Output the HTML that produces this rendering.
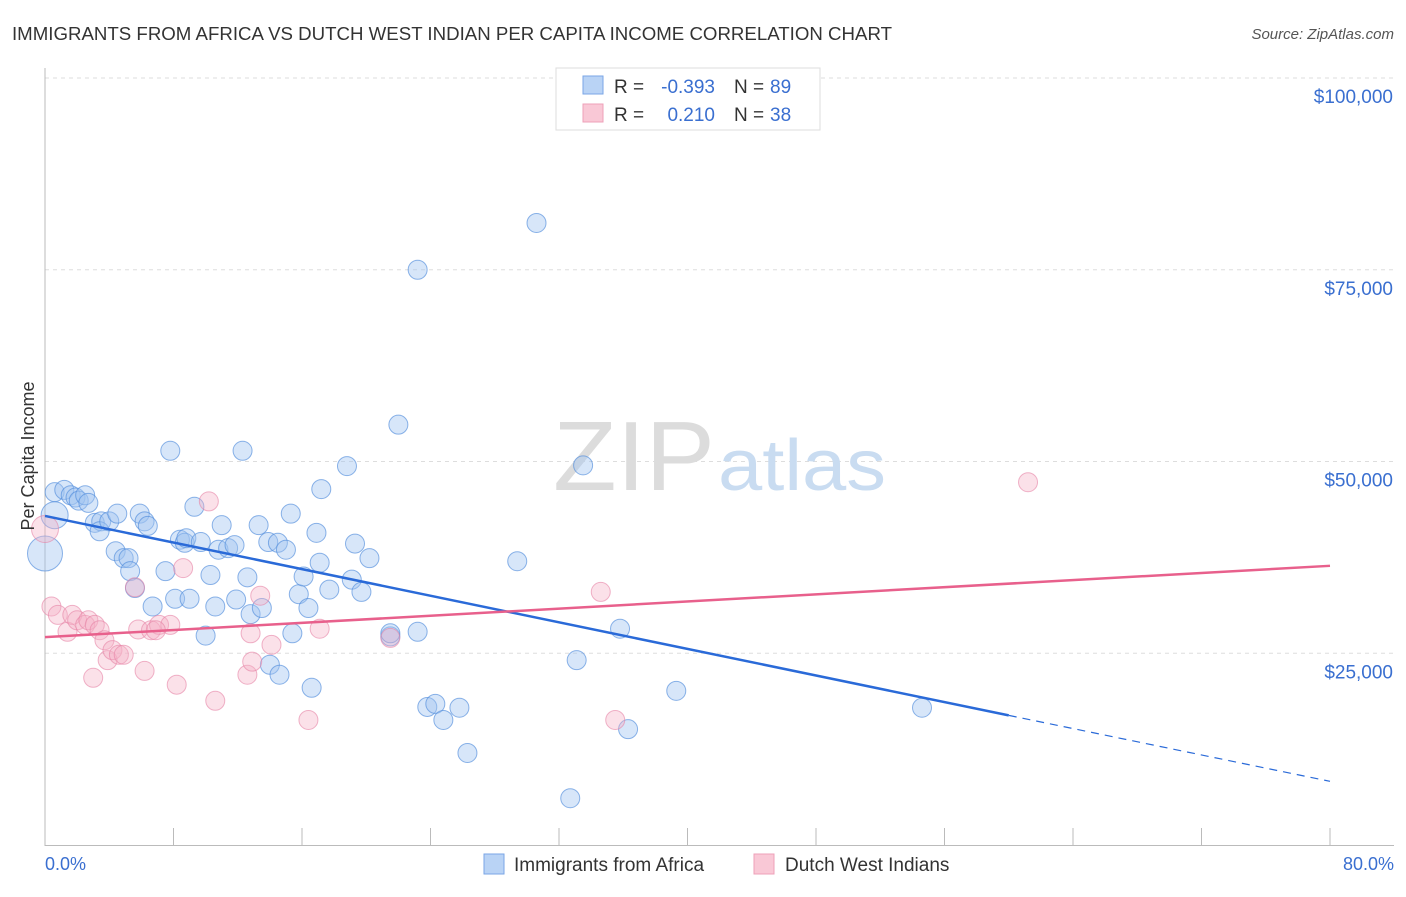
<!DOCTYPE html>
<html><head><meta charset="utf-8"><style>
body{margin:0;background:#fff;font-family:"Liberation Sans",sans-serif;}
svg text{font-family:"Liberation Sans",sans-serif;}
</style></head><body>
<svg width="1406" height="892" xmlns="http://www.w3.org/2000/svg">
<text x="12" y="40" font-size="18" fill="#333" textLength="880" lengthAdjust="spacingAndGlyphs">IMMIGRANTS FROM AFRICA VS DUTCH WEST INDIAN PER CAPITA INCOME CORRELATION CHART</text>
<text x="1394" y="39" font-size="15" fill="#555" text-anchor="end" font-style="italic">Source: ZipAtlas.com</text>
<g id="grid"></g>
<line x1="45" y1="68" x2="45" y2="846" stroke="#bbb"/>
<line x1="45" y1="845.5" x2="1394" y2="845.5" stroke="#bbb"/>
<text x="553" y="490" font-size="98" fill="#dcdcdc" font-family="Liberation Serif" textLength="162" lengthAdjust="spacingAndGlyphs">ZIP</text>
<text x="718" y="490" font-size="72" fill="#c9dcf1" textLength="168" lengthAdjust="spacingAndGlyphs">atlas</text>
<g id="marks"></g>
<text x="34" y="456" font-size="18" fill="#333" transform="rotate(-90 34 456)" text-anchor="middle">Per Capita Income</text>
<text x="45" y="870" font-size="18" fill="#3a6fd0">0.0%</text>
<text x="1394" y="870" font-size="18" fill="#3a6fd0" text-anchor="end">80.0%</text>
<g>
<rect x="556" y="68" width="264" height="62" fill="#fff" stroke="#ddd"/>
<rect x="583" y="76" width="20" height="18" fill="#b9d3f5" stroke="#7aa6e6"/>
<rect x="583" y="104" width="20" height="18" fill="#f9c8d6" stroke="#eea0b8"/>
<text x="614" y="93" font-size="19" fill="#333">R =</text>
<text x="715" y="93" font-size="19" fill="#3a6fd0" text-anchor="end">-0.393</text>
<text x="734" y="93" font-size="19" fill="#333">N =</text>
<text x="770" y="93" font-size="19" fill="#3a6fd0">89</text>
<text x="614" y="121" font-size="19" fill="#333">R =</text>
<text x="715" y="121" font-size="19" fill="#3a6fd0" text-anchor="end">0.210</text>
<text x="734" y="121" font-size="19" fill="#333">N =</text>
<text x="770" y="121" font-size="19" fill="#3a6fd0">38</text>
</g>
<g>
<rect x="484" y="854" width="20" height="20" fill="#b9d3f5" stroke="#7aa6e6"/>
<text x="514" y="871" font-size="19" fill="#333">Immigrants from Africa</text>
<rect x="754" y="854" width="20" height="20" fill="#f9c8d6" stroke="#eea0b8"/>
<text x="785" y="871" font-size="19" fill="#333">Dutch West Indians</text>
</g>
</svg>
<script>
const yTicks=[25000,50000,75000,100000];
const yTickLabels=["$25,000","$50,000","$75,000","$100,000"];
const xTicks=[0,8,16,24,32,40,48,56,64,72,80];
const africaX=[0.6,0,0.6,1.2,1.6,1.9,2.1,2.5,2.7,3.1,3.5,3.4,4.0,4.5,4.4,4.9,5.2,5.3,5.6,5.9,6.2,6.4,6.7,7.5,7.8,8.1,8.4,8.7,8.8,9.0,9.3,9.7,10.0,10.3,10.6,10.8,11.0,11.4,11.8,11.9,12.3,12.6,12.8,13.3,13.5,13.9,14.0,14.5,14.6,15.0,15.3,15.4,15.8,16.1,16.4,16.6,16.9,17.1,17.2,17.7,18.8,19.1,19.3,19.7,20.2,21.5,22.0,23.2,23.2,23.8,24.3,24.8,25.8,26.3,29.4,30.6,32.7,33.1,33.5,35.8,36.3,39.3,54.6,21.5];
const africaY=[43000,38000,46000,46300,45600,45300,44900,45600,44600,42000,42200,40900,42200,43200,38300,37400,37400,35700,33500,43200,42200,41600,31100,35700,51400,32100,39800,39400,40000,32100,44100,39500,27300,35200,31100,38500,41700,38700,39100,32000,51400,34900,30100,41700,30900,39500,23500,39400,22200,38500,43200,27600,32700,35000,30900,20500,40700,36800,46400,33300,49400,34600,39300,33000,37400,27200,54800,27800,75000,18000,18400,16300,17900,12000,37000,81100,6100,24100,49500,28200,15100,20100,17900,27600];
const dutchX=[0,0.4,0.8,1.4,1.7,2.0,2.5,2.7,3.1,3.4,3.7,3.9,4.2,4.6,4.9,3.0,5.6,5.8,6.2,6.6,7.1,7.8,8.2,8.6,10.2,10.6,12.8,12.6,12.9,13.4,14.1,16.4,17.1,21.5,34.6,35.5,61.2,6.9];
const dutchY=[41200,31100,30000,27800,30000,29300,28700,29300,28700,28000,26700,24100,25400,24800,24800,21800,33600,28100,22700,28000,28700,28700,20900,36100,44800,18800,27600,22200,23900,32500,26100,16300,28200,27000,33000,16300,47300,28000];
const africaR=[0.5,1];
const dutchR=[0.5];
const blueTrend=[[0,42900],[60,16900],[80,8300]];
const pinkTrend=[[0,27100],[80,36400]];
const X=v=>45+v/80*1285, Y=v=>845-v/100000*767;
const NS="http://www.w3.org/2000/svg";
const grid=document.getElementById('grid'), marks=document.getElementById('marks');
yTicks.forEach((t,i)=>{
 const l=document.createElementNS(NS,'line');
 
 
 l.setAttribute('x1',45);l.setAttribute('x2',1394);l.setAttribute('y1',Y(t));l.setAttribute('y2',Y(t));
 l.setAttribute('stroke','#ddd');l.setAttribute('stroke-dasharray','4,4');grid.appendChild(l);
 const tx=document.createElementNS(NS,'text');
 
 
 tx.setAttribute('x',1393);tx.setAttribute('y',Y(t)+25);tx.setAttribute('text-anchor','end');
 tx.setAttribute('font-size','19');tx.setAttribute('fill','#3a6fd0');tx.textContent=yTickLabels[i];grid.appendChild(tx);
});
xTicks.forEach(t=>{
 const l=document.createElementNS(NS,'line');
 
 
 l.setAttribute('x1',X(t));l.setAttribute('x2',X(t));l.setAttribute('y1',828);l.setAttribute('y2',845);
 l.setAttribute('stroke','#bbb');grid.appendChild(l);
});
function pts(xs,ys,rs,fill,stroke,name){
 xs.forEach((x,i)=>{
  const c=document.createElementNS(NS,'circle');
  
  
  c.setAttribute('cx',X(x));c.setAttribute('cy',Y(ys[i]));c.setAttribute('r',9.5+(rs[i]||0)*8);
  c.setAttribute('fill',fill);c.setAttribute('stroke',stroke);c.setAttribute('stroke-width','1');
  marks.appendChild(c);
 });
}
pts(africaX,africaY,africaR,'rgba(160,196,240,0.42)','rgba(80,140,220,0.65)','africa-point');
pts(dutchX,dutchY,dutchR,'rgba(245,175,198,0.38)','rgba(230,130,165,0.6)','dutch-point');
function line(a,b,col,dash,name){
 const l=document.createElementNS(NS,'line');
 
 
 l.setAttribute('x1',X(a[0]));l.setAttribute('y1',Y(a[1]));l.setAttribute('x2',X(b[0]));l.setAttribute('y2',Y(b[1]));
 l.setAttribute('stroke',col);l.setAttribute('stroke-width',dash?1.2:2.5);if(dash)l.setAttribute('stroke-dasharray','8,6');
 marks.appendChild(l);
}
line(blueTrend[0],blueTrend[1],'#2a6ad8',false,'africa-trend-line');
line(blueTrend[1],blueTrend[2],'#2a6ad8',true,'africa-trend-extension');
line(pinkTrend[0],pinkTrend[1],'#e8608c',false,'dutch-trend-line');
</script>
</body></html>
